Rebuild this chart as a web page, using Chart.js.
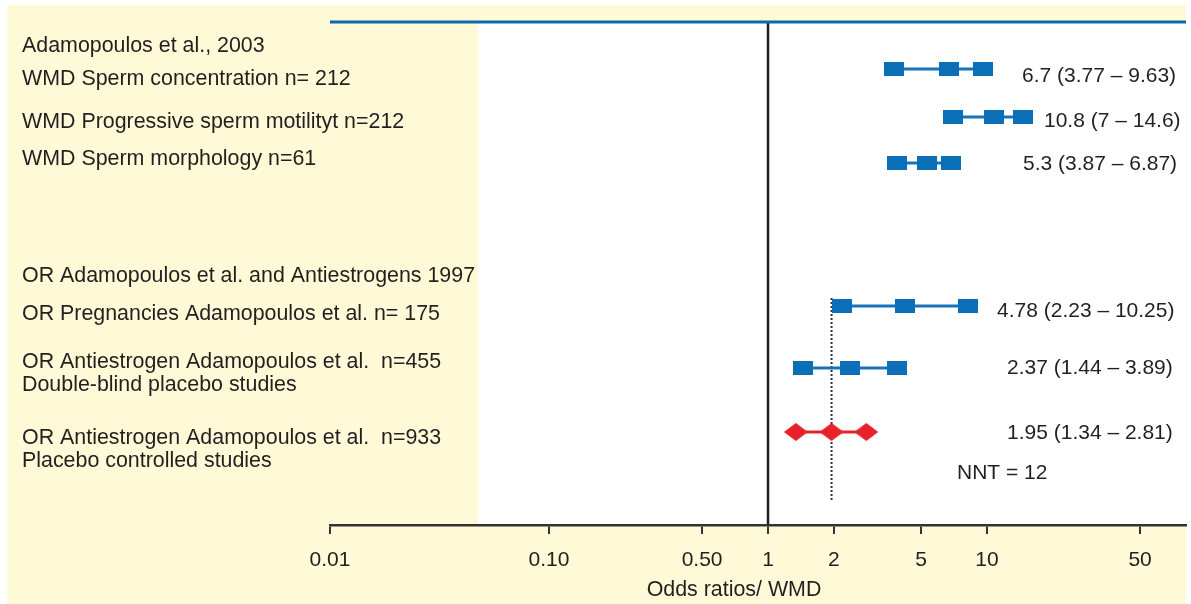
<!DOCTYPE html>
<html><head><meta charset="utf-8">
<script src="https://cdn.jsdelivr.net/npm/chart.js@4"></script>
<style>html,body{margin:0;padding:0;background:#fff}canvas{display:block}</style>
</head><body>
<canvas id="c" width="1191" height="604"></canvas>
<script>
// ---- data ----
const studyLabels = [
  "WMD Sperm concentration n= 212",
  "WMD Progressive sperm motilityt n=212",
  "WMD Sperm morphology n=61",
  "OR Pregnancies Adamopoulos et al. n= 175",
  "OR Antiestrogen Adamopoulos et al.  n=455",
  "OR Antiestrogen Adamopoulos et al.  n=933"
];
const groupHeaders = ["Adamopoulos et al., 2003", "OR Adamopoulos et al. and Antiestrogens 1997"];
const subLabels = ["Double-blind placebo studies", "Placebo controlled studies"];
const estimate = [6.7, 10.8, 5.3, 4.22, 2.37, 1.95];
const lower    = [3.77, 7, 3.87, 2.18, 1.44, 1.34];
const upper    = [9.63, 14.6, 6.87, 8.18, 3.89, 2.81];
const resultLabels = ["6.7 (3.77 \u2013 9.63)", "10.8 (7 \u2013 14.6)", "5.3 (3.87 \u2013 6.87)",
  "4.78 (2.23 \u2013 10.25)", "2.37 (1.44 \u2013 3.89)", "1.95 (1.34 \u2013 2.81)"];
const pooledOR = 1.95;
const nntLabel = "NNT = 12";
const rowPos = [4.7, 9.5, 14.1, 28.4, 34.6, 41.0];
const tickValues = [0.01, 0.1, 0.5, 1, 2, 5, 10, 50];
const tickLabels = ["0.01", "0.10", "0.50", "1", "2", "5", "10", "50"];
const axisTitle = "Odds ratios/ WMD";

// ---- styles / layout ----
const FONT_L = '21.4px "Liberation Sans", Arial, Helvetica, sans-serif';
const FONT_R = '21px "Liberation Sans", Arial, Helvetica, sans-serif';
const TXT = '#231f20';
const BLUE = '#0b6fb8';
const RED = '#e8222a';
const leftLayout = [
  {t: groupHeaders[0], y: 2.4}, {t: studyLabels[0], y: 5.7}, {t: studyLabels[1], y: 10.0},
  {t: studyLabels[2], y: 13.7}, {t: groupHeaders[1], y: 25.4}, {t: studyLabels[3], y: 29.2},
  {t: studyLabels[4], y: 34.0}, {t: subLabels[0], y: 36.3}, {t: studyLabels[5], y: 41.6},
  {t: subLabels[1], y: 43.9}
];
const rightLayout = [
  {x: 1022, y: 5.4}, {x: 1044, y: 9.9}, {x: 1023, y: 14.2},
  {x: 997, y: 28.9}, {x: 1007, y: 34.6}, {x: 1007, y: 41.1}
];

function makeRect(w, h, color) {
  const c = document.createElement('canvas'); c.width = w; c.height = h;
  const g = c.getContext('2d'); g.fillStyle = color; g.fillRect(0, 0, w, h); return c;
}
function makeDiamond(w, h, color) {
  const c = document.createElement('canvas'); c.width = w; c.height = h;
  const g = c.getContext('2d'); g.fillStyle = color; g.beginPath();
  g.moveTo(w / 2, 0); g.lineTo(w, h / 2); g.lineTo(w / 2, h); g.lineTo(0, h / 2); g.closePath(); g.fill();
  return c;
}
const sq = makeRect(20, 14, BLUE);
const dm = makeDiamond(24, 18, RED);

const datasets = estimate.map((e, i) => {
  const last = i === estimate.length - 1;
  return {
    data: [{x: lower[i], y: rowPos[i]}, {x: e, y: rowPos[i]}, {x: upper[i], y: rowPos[i]}],
    borderColor: last ? RED : '#1673bb',
    borderWidth: 3,
    pointStyle: last ? dm : sq,
    pointRadius: 1,
    pointBorderWidth: 0,
    tension: 0,
    clip: false
  };
});

const decor = {
  id: 'decor',
  beforeDraw(chart) {
    const {ctx, chartArea: a} = chart;
    ctx.save();
    ctx.fillStyle = '#fff'; ctx.fillRect(0, 0, chart.width, chart.height);
    ctx.fillStyle = '#fef9d6'; ctx.fillRect(7, 5, 1179, 599);
    ctx.fillStyle = '#fff'; ctx.fillRect(478, a.top, a.right - 478, a.bottom - a.top);
    ctx.restore();
  },
  beforeDatasetsDraw(chart) {
    const {ctx, chartArea: a, scales: {x, y}} = chart;
    ctx.save();
    const x1 = x.getPixelForValue(1);
    ctx.strokeStyle = '#231f20'; ctx.lineWidth = 2.5;
    ctx.beginPath(); ctx.moveTo(x1, a.top); ctx.lineTo(x1, a.bottom); ctx.stroke();
    const xp = x.getPixelForValue(pooledOR);
    ctx.strokeStyle = '#333'; ctx.lineWidth = 2; ctx.setLineDash([2, 2]);
    ctx.beginPath(); ctx.moveTo(xp, y.getPixelForValue(27.6)); ctx.lineTo(xp, y.getPixelForValue(47.8)); ctx.stroke();
    ctx.setLineDash([]);
    ctx.strokeStyle = '#0a6aae'; ctx.lineWidth = 3;
    ctx.beginPath(); ctx.moveTo(a.left, a.top); ctx.lineTo(a.right, a.top); ctx.stroke();
    ctx.restore();
  },
  afterDraw(chart) {
    const {ctx, scales: {y}} = chart;
    ctx.save();
    ctx.fillStyle = TXT; ctx.textBaseline = 'middle'; ctx.textAlign = 'left';
    ctx.font = FONT_L;
    leftLayout.forEach(l => ctx.fillText(l.t, 22, y.getPixelForValue(l.y)));
    ctx.font = FONT_R;
    rightLayout.forEach((r, i) => ctx.fillText(resultLabels[i], r.x, y.getPixelForValue(r.y)));
    ctx.fillText(nntLabel, 957, y.getPixelForValue(45.1));
    ctx.font = FONT_L;
    ctx.textAlign = 'center';
    ctx.fillText(axisTitle, 734, 590);
    ctx.restore();
  }
};

new Chart(document.getElementById('c'), {
  type: 'line',
  data: {datasets},
  options: {
    responsive: false,
    devicePixelRatio: 1,
    animation: false,
    events: [],
    layout: {padding: {left: 330, right: 5, top: 22, bottom: 0}},
    plugins: {legend: {display: false}, tooltip: {enabled: false}},
    scales: {
      x: {
        type: 'logarithmic',
        position: 'bottom',
        bounds: 'data',
        min: 0.01,
        max: 81,
        afterBuildTicks: s => { s.ticks = tickValues.map(v => ({value: v})); },
        afterFit: s => { s.height = 79; s.paddingLeft = 0; s.paddingRight = 0; },
        grid: {display: true, drawOnChartArea: false, drawTicks: true, tickLength: 9, color: '#333', lineWidth: 2},
        border: {display: true, color: '#333', width: 2.5},
        ticks: {
          autoSkip: false, maxRotation: 0, padding: 14, color: TXT,
          font: {family: '"Liberation Sans", Arial, sans-serif', size: 21},
          callback: (v) => { const i = tickValues.indexOf(v); return i >= 0 ? tickLabels[i] : ''; }
        }
      },
      y: {type: 'linear', display: false, min: 0, max: 50.3, reverse: true}
    }
  },
  plugins: [decor]
});
</script>
</body></html>
